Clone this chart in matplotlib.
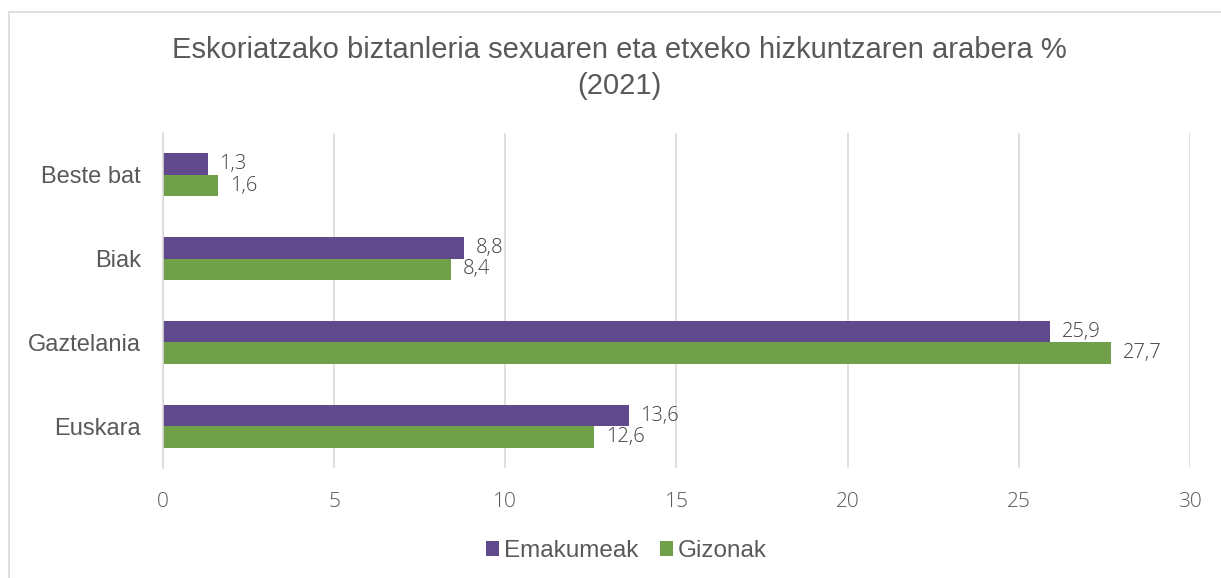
import numpy as np
import matplotlib.pyplot as plt
from matplotlib.patches import Rectangle

categories = ["Euskara", "Gaztelania", "Biak", "Beste bat"]
emakumeak = [13.6, 25.9, 8.8, 1.3]
gizonak = [12.6, 27.7, 8.4, 1.6]
xticks = [0, 5, 10, 15, 20, 25, 30]

purple = "#604a8b"
green = "#70a14a"

fig = plt.figure(figsize=(12.21, 5.78), dpi=100)
ax = fig.add_axes([0.1335, 0.19, 0.841, 0.58])

# chart frame (right and bottom edges fall outside the picture)
fig.patches.append(Rectangle((9 / 1221, -0.1), 1.2, 1.1 - 12 / 578, transform=fig.transFigure,
                             fill=False, edgecolor="#d9d9d9", linewidth=1.2))

y = np.arange(len(categories))
h = 0.255
ax.barh(y + h / 2, emakumeak, height=h, color=purple, label="Emakumeak")
ax.barh(y - h / 2, gizonak, height=h, color=green, label="Gizonak")

lbl = dict(va="center", ha="left", fontsize=14.5, color="#404040",
           family="Open Sans", fontweight="light")
for yi, v in zip(y, emakumeak):
    ax.text(v + 0.35, yi + h / 2, f"{v:.1f}".replace(".", ","), **lbl)
for yi, v in zip(y, gizonak):
    ax.text(v + 0.35, yi - h / 2, f"{v:.1f}".replace(".", ","), **lbl)

ax.set_xlim(0, 30)
ax.set_ylim(-0.5, 3.5)
ax.set_xticks(xticks)
ax.set_xticklabels([str(t) for t in xticks], family="Open Sans", fontweight="light",
                   fontsize=15, color="#595959")
ax.set_yticks(y)
ax.set_yticklabels(categories, family="Liberation Sans", fontsize=17, color="#595959")
ax.tick_params(axis="both", length=0)
ax.tick_params(axis="x", pad=17)
ax.tick_params(axis="y", pad=16)
ax.grid(axis="x", color="#d9d9d9", linewidth=1.2)
ax.set_axisbelow(True)
for s in ["top", "right", "bottom"]:
    ax.spines[s].set_visible(False)
ax.spines["left"].set_color("#d9d9d9")
ax.spines["left"].set_linewidth(1.2)

fig.text(0.507, 0.913, "Eskoriatzako biztanleria sexuaren eta etxeko hizkuntzaren arabera %",
         ha="center", va="center", fontsize=21, color="#595959", family="Liberation Sans")
fig.text(0.507, 0.852, "(2021)", ha="center", va="center", fontsize=21, color="#595959",
         family="Liberation Sans")

leg = fig.legend(loc="center", bbox_to_anchor=(0.513, 0.047), ncol=2, frameon=False,
                 prop={"family": "Liberation Sans", "size": 17.5}, handlelength=0.55,
                 handleheight=0.55, handletextpad=0.2, columnspacing=0.9)
for t in leg.get_texts():
    t.set_color("#595959")

fig.savefig("out.png", dpi=100)
